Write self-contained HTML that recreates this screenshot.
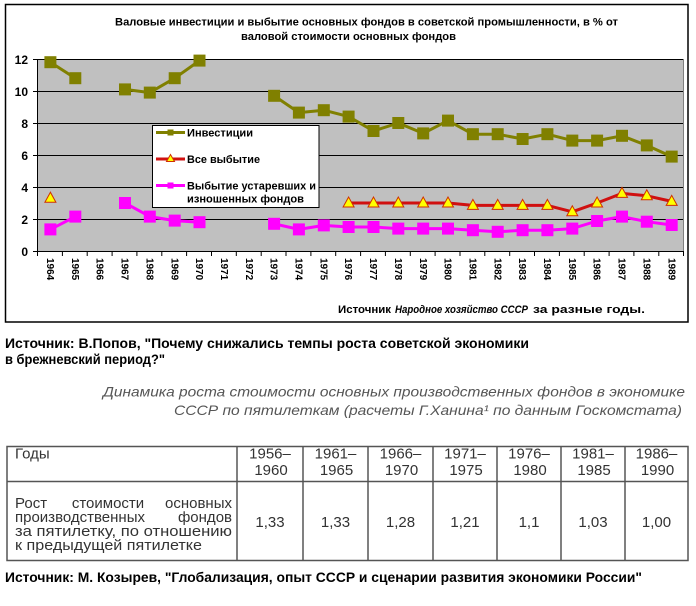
<!DOCTYPE html>
<html><head><meta charset="utf-8">
<style>
html,body{margin:0;padding:0;background:#fff;}
svg{display:block;}
.b{font-family:"Liberation Sans","DejaVu Sans",sans-serif;font-weight:bold;}
.n{font-family:"Liberation Sans","DejaVu Sans",sans-serif;}
</style></head>
<body>
<svg width="696" height="606" viewBox="0 0 696 606" xmlns="http://www.w3.org/2000/svg">
<defs>
<rect id="so" x="-6" y="-6" width="12" height="12" fill="#808000"/>
<rect id="sm" x="-6" y="-6" width="12" height="12" fill="#ff00ff"/>
<polygon id="tr" points="0,-6 -5.5,4 5.5,4" fill="#ffff00" stroke="#d03000" stroke-width="1"/>
</defs>
<rect width="696" height="606" fill="#fff"/>
<!-- chart frame -->
<rect x="5.5" y="4.5" width="682.5" height="317.5" fill="#fff" stroke="#000" stroke-width="1.5"/>
<!-- title -->
<text class="b" x="115" y="25.5" font-size="11" textLength="503" lengthAdjust="spacingAndGlyphs">Валовые инвестиции и выбытие основных фондов в советской промышленности, в % от</text>
<text class="b" x="241" y="40" font-size="11" textLength="215" lengthAdjust="spacingAndGlyphs">валовой стоимости основных фондов</text>
<!-- plot area -->
<rect x="38" y="59" width="645.5" height="192" fill="#c0c0c0"/>
<line x1="683.5" y1="59" x2="683.5" y2="251" stroke="#808080" stroke-width="1"/>
<g stroke="#000" stroke-width="1">
<line x1="38" y1="59.5" x2="683" y2="59.5"/>
<line x1="38" y1="91.5" x2="683" y2="91.5"/>
<line x1="38" y1="123.5" x2="683" y2="123.5"/>
<line x1="38" y1="155.5" x2="683" y2="155.5"/>
<line x1="38" y1="187.5" x2="683" y2="187.5"/>
<line x1="38" y1="219.5" x2="683" y2="219.5"/>
<line x1="33" y1="59.5" x2="38" y2="59.5"/>
<line x1="33" y1="91.5" x2="38" y2="91.5"/>
<line x1="33" y1="123.5" x2="38" y2="123.5"/>
<line x1="33" y1="155.5" x2="38" y2="155.5"/>
<line x1="33" y1="187.5" x2="38" y2="187.5"/>
<line x1="33" y1="219.5" x2="38" y2="219.5"/>
<line x1="33" y1="251.5" x2="684" y2="251.5"/>
<line x1="37.5" y1="59" x2="37.5" y2="252"/>
</g>
<g stroke="#000" stroke-width="1">
<line x1="37.5" y1="251" x2="37.5" y2="256"/><line x1="62.4" y1="251" x2="62.4" y2="256"/><line x1="87.2" y1="251" x2="87.2" y2="256"/><line x1="112.1" y1="251" x2="112.1" y2="256"/><line x1="136.9" y1="251" x2="136.9" y2="256"/><line x1="161.8" y1="251" x2="161.8" y2="256"/><line x1="186.6" y1="251" x2="186.6" y2="256"/><line x1="211.5" y1="251" x2="211.5" y2="256"/><line x1="236.3" y1="251" x2="236.3" y2="256"/><line x1="261.2" y1="251" x2="261.2" y2="256"/><line x1="286" y1="251" x2="286" y2="256"/><line x1="310.9" y1="251" x2="310.9" y2="256"/><line x1="335.7" y1="251" x2="335.7" y2="256"/><line x1="360.6" y1="251" x2="360.6" y2="256"/><line x1="385.4" y1="251" x2="385.4" y2="256"/><line x1="410.3" y1="251" x2="410.3" y2="256"/><line x1="435.1" y1="251" x2="435.1" y2="256"/><line x1="460" y1="251" x2="460" y2="256"/><line x1="484.8" y1="251" x2="484.8" y2="256"/><line x1="509.7" y1="251" x2="509.7" y2="256"/><line x1="534.5" y1="251" x2="534.5" y2="256"/><line x1="559.4" y1="251" x2="559.4" y2="256"/><line x1="584.2" y1="251" x2="584.2" y2="256"/><line x1="609.1" y1="251" x2="609.1" y2="256"/><line x1="633.9" y1="251" x2="633.9" y2="256"/><line x1="658.8" y1="251" x2="658.8" y2="256"/><line x1="683.5" y1="251" x2="683.5" y2="256"/>
</g>
<!-- y labels -->
<g class="b" font-size="12" text-anchor="end">
<text x="28" y="64">12</text>
<text x="28" y="96">10</text>
<text x="28" y="128">8</text>
<text x="28" y="160">6</text>
<text x="28" y="192">4</text>
<text x="28" y="224">2</text>
<text x="28" y="256">0</text>
</g>
<!-- x labels -->
<g class="b" font-size="10">
<text transform="translate(47,258) rotate(90)">1964</text>
<text transform="translate(71.9,258) rotate(90)">1965</text>
<text transform="translate(96.7,258) rotate(90)">1966</text>
<text transform="translate(121.6,258) rotate(90)">1967</text>
<text transform="translate(146.4,258) rotate(90)">1968</text>
<text transform="translate(171.3,258) rotate(90)">1969</text>
<text transform="translate(196.1,258) rotate(90)">1970</text>
<text transform="translate(221,258) rotate(90)">1971</text>
<text transform="translate(245.8,258) rotate(90)">1972</text>
<text transform="translate(270.7,258) rotate(90)">1973</text>
<text transform="translate(295.5,258) rotate(90)">1974</text>
<text transform="translate(320.4,258) rotate(90)">1975</text>
<text transform="translate(345.2,258) rotate(90)">1976</text>
<text transform="translate(370.1,258) rotate(90)">1977</text>
<text transform="translate(394.9,258) rotate(90)">1978</text>
<text transform="translate(419.8,258) rotate(90)">1979</text>
<text transform="translate(444.6,258) rotate(90)">1980</text>
<text transform="translate(469.5,258) rotate(90)">1981</text>
<text transform="translate(494.3,258) rotate(90)">1982</text>
<text transform="translate(519.2,258) rotate(90)">1983</text>
<text transform="translate(544,258) rotate(90)">1984</text>
<text transform="translate(568.9,258) rotate(90)">1985</text>
<text transform="translate(593.7,258) rotate(90)">1986</text>
<text transform="translate(618.6,258) rotate(90)">1987</text>
<text transform="translate(643.4,258) rotate(90)">1988</text>
<text transform="translate(668.3,258) rotate(90)">1989</text>
</g>
<!-- investments -->
<g fill="none" stroke="#808000" stroke-width="3" stroke-linejoin="round">
<polyline points="50.4,62.2 75.3,78.2"/>
<polyline points="125.0,89.4 149.8,92.6 174.7,78.2 199.5,60.6"/>
<polyline points="274.1,95.8 298.9,112.6 323.8,110.2 348.6,116.6 373.5,131 398.3,123 423.2,133.4 448.0,120.6 472.9,134.2 497.7,134.2 522.6,139 547.4,134.2 572.3,140.6 597.1,140.6 622.0,135.8 646.8,145.4 671.7,156.6"/>
</g>
<g>
<use href="#so" x="50.4" y="62.2"/><use href="#so" x="75.3" y="78.2"/>
<use href="#so" x="125.0" y="89.4"/><use href="#so" x="149.8" y="92.6"/><use href="#so" x="174.7" y="78.2"/><use href="#so" x="199.5" y="60.6"/>
<use href="#so" x="274.1" y="95.8"/><use href="#so" x="298.9" y="112.6"/><use href="#so" x="323.8" y="110.2"/><use href="#so" x="348.6" y="116.6"/><use href="#so" x="373.5" y="131"/><use href="#so" x="398.3" y="123"/><use href="#so" x="423.2" y="133.4"/><use href="#so" x="448.0" y="120.6"/><use href="#so" x="472.9" y="134.2"/><use href="#so" x="497.7" y="134.2"/><use href="#so" x="522.6" y="139"/><use href="#so" x="547.4" y="134.2"/><use href="#so" x="572.3" y="140.6"/><use href="#so" x="597.1" y="140.6"/><use href="#so" x="622.0" y="135.8"/><use href="#so" x="646.8" y="145.4"/><use href="#so" x="671.7" y="156.6"/>
</g>
<!-- all disposal -->
<polyline fill="none" stroke="#d01010" stroke-width="3" stroke-linejoin="round" points="348.6,203 373.5,203 398.3,203 423.2,203 448.0,203 472.9,205.4 497.7,205.4 522.6,205.4 547.4,205.4 572.3,211.8 597.1,203 622.0,193.4 646.8,195.8 671.7,201.4"/>
<g>
<use href="#tr" x="50.4" y="198.2"/>
<use href="#tr" x="348.6" y="203"/><use href="#tr" x="373.5" y="203"/><use href="#tr" x="398.3" y="203"/><use href="#tr" x="423.2" y="203"/><use href="#tr" x="448.0" y="203"/><use href="#tr" x="472.9" y="205.4"/><use href="#tr" x="497.7" y="205.4"/><use href="#tr" x="522.6" y="205.4"/><use href="#tr" x="547.4" y="205.4"/><use href="#tr" x="572.3" y="211.8"/><use href="#tr" x="597.1" y="203"/><use href="#tr" x="622.0" y="193.4"/><use href="#tr" x="646.8" y="195.8"/><use href="#tr" x="671.7" y="201.4"/>
</g>
<!-- obsolete disposal -->
<g fill="none" stroke="#ff00ff" stroke-width="3" stroke-linejoin="round">
<polyline points="50.4,229.4 75.3,216.6"/>
<polyline points="125.0,203 149.8,216.6 174.7,220.6 199.5,222.2"/>
<polyline points="274.1,223.8 298.9,229.4 323.8,225.4 348.6,227 373.5,227 398.3,228.6 423.2,228.6 448.0,228.6 472.9,230.2 497.7,231.8 522.6,230.2 547.4,230.2 572.3,228.6 597.1,221 622.0,216.6 646.8,221.7 671.7,225"/>
</g>
<g>
<use href="#sm" x="50.4" y="229.4"/><use href="#sm" x="75.3" y="216.6"/>
<use href="#sm" x="125.0" y="203"/><use href="#sm" x="149.8" y="216.6"/><use href="#sm" x="174.7" y="220.6"/><use href="#sm" x="199.5" y="222.2"/>
<use href="#sm" x="274.1" y="223.8"/><use href="#sm" x="298.9" y="229.4"/><use href="#sm" x="323.8" y="225.4"/><use href="#sm" x="348.6" y="227"/><use href="#sm" x="373.5" y="227"/><use href="#sm" x="398.3" y="228.6"/><use href="#sm" x="423.2" y="228.6"/><use href="#sm" x="448.0" y="228.6"/><use href="#sm" x="472.9" y="230.2"/><use href="#sm" x="497.7" y="231.8"/><use href="#sm" x="522.6" y="230.2"/><use href="#sm" x="547.4" y="230.2"/><use href="#sm" x="572.3" y="228.6"/><use href="#sm" x="597.1" y="221"/><use href="#sm" x="622.0" y="216.6"/><use href="#sm" x="646.8" y="221.7"/><use href="#sm" x="671.7" y="225"/>
</g>
<!-- legend -->
<rect x="152.5" y="125.5" width="166.5" height="82" fill="#fff" stroke="#000" stroke-width="1"/>
<line x1="156" y1="132.5" x2="185" y2="132.5" stroke="#808000" stroke-width="3"/>
<rect x="167.5" y="129.5" width="6" height="6" fill="#808000"/>
<line x1="156" y1="159" x2="185" y2="159" stroke="#d01010" stroke-width="3"/>
<polygon points="170.5,154.5 166.5,161.5 174.5,161.5" fill="#ffff00" stroke="#d03000" stroke-width="1"/>
<line x1="156" y1="185.5" x2="185" y2="185.5" stroke="#ff00ff" stroke-width="3"/>
<rect x="167.5" y="182.5" width="6" height="6" fill="#ff00ff"/>
<g class="b" font-size="11">
<text x="187" y="136.5" textLength="66" lengthAdjust="spacingAndGlyphs">Инвестиции</text>
<text x="187" y="163" textLength="73" lengthAdjust="spacingAndGlyphs">Все выбытие</text>
<text x="187" y="189.7" textLength="129" lengthAdjust="spacingAndGlyphs">Выбытие устаревших и</text>
<text x="187" y="202.5" textLength="117" lengthAdjust="spacingAndGlyphs">изношенных фондов</text>
</g>
<!-- chart source -->
<text class="b" x="338" y="313" font-size="11" textLength="53" lengthAdjust="spacingAndGlyphs">Источник</text>
<text class="b" x="395" y="313" font-size="11" font-style="italic" textLength="133" lengthAdjust="spacingAndGlyphs">Народное хозяйство СССР</text>
<text class="b" x="533" y="313" font-size="11" textLength="112" lengthAdjust="spacingAndGlyphs">за разные годы.</text>
<!-- popov source -->
<text class="b" x="5" y="348" font-size="14" textLength="524" lengthAdjust="spacingAndGlyphs">Источник: В.Попов, "Почему снижались темпы роста советской экономики</text>
<text class="b" x="5" y="364" font-size="14" textLength="160" lengthAdjust="spacingAndGlyphs">в брежневский период?"</text>
<!-- italic table title -->
<text class="n" x="103" y="396.5" font-size="14" font-style="italic" fill="#555" textLength="582" lengthAdjust="spacingAndGlyphs">Динамика роста стоимости основных производственных фондов в экономике</text>
<text class="n" x="174" y="415" font-size="14" font-style="italic" fill="#555" textLength="508" lengthAdjust="spacingAndGlyphs">СССР по пятилеткам (расчеты Г.Ханина¹ по данным Госкомстата)</text>
<!-- table -->
<g stroke="#555" stroke-width="1.5" fill="none">
<rect x="7" y="446.5" width="681" height="114"/>
<line x1="7" y1="481.5" x2="688" y2="481.5"/>
<line x1="237" y1="446.5" x2="237" y2="560.5"/>
<line x1="303" y1="446.5" x2="303" y2="560.5"/>
<line x1="368" y1="446.5" x2="368" y2="560.5"/>
<line x1="433" y1="446.5" x2="433" y2="560.5"/>
<line x1="497" y1="446.5" x2="497" y2="560.5"/>
<line x1="561" y1="446.5" x2="561" y2="560.5"/>
<line x1="625" y1="446.5" x2="625" y2="560.5"/>
</g>
<g class="n" font-size="15" fill="#333">
<text x="15" y="458.5">Годы</text>
<g text-anchor="middle">
<text x="270" y="458.5">1956–</text><text x="271" y="475">1960</text>
<text x="335.5" y="458.5">1961–</text><text x="336.5" y="475">1965</text>
<text x="400.5" y="458.5">1966–</text><text x="401.5" y="475">1970</text>
<text x="465" y="458.5">1971–</text><text x="466" y="475">1975</text>
<text x="529" y="458.5">1976–</text><text x="530" y="475">1980</text>
<text x="593" y="458.5">1981–</text><text x="594" y="475">1985</text>
<text x="656.5" y="458.5">1986–</text><text x="657.5" y="475">1990</text>
<text x="270" y="527">1,33</text>
<text x="335.5" y="527">1,33</text>
<text x="400.5" y="527">1,28</text>
<text x="465" y="527">1,21</text>
<text x="529" y="527">1,1</text>
<text x="593" y="527">1,03</text>
<text x="656.5" y="527">1,00</text>
</g>
</g>
<g class="n" font-size="15" fill="#333">
<text x="15" y="508">Рост</text>
<text x="108" y="508" text-anchor="middle">стоимости</text>
<text x="232" y="508" text-anchor="end">основных</text>
<text x="15" y="522">производственных</text>
<text x="232" y="522" text-anchor="end">фондов</text>
<text x="15" y="536" textLength="217" lengthAdjust="spacingAndGlyphs">за пятилетку, по отношению</text>
<text x="15" y="550" textLength="187" lengthAdjust="spacingAndGlyphs">к предыдущей пятилетке</text>
</g>
<!-- kozyrev source -->
<text class="b" x="5" y="582" font-size="14" textLength="637" lengthAdjust="spacingAndGlyphs">Источник: М. Козырев, "Глобализация, опыт СССР и сценарии развития экономики России"</text>
</svg>
</body></html>
